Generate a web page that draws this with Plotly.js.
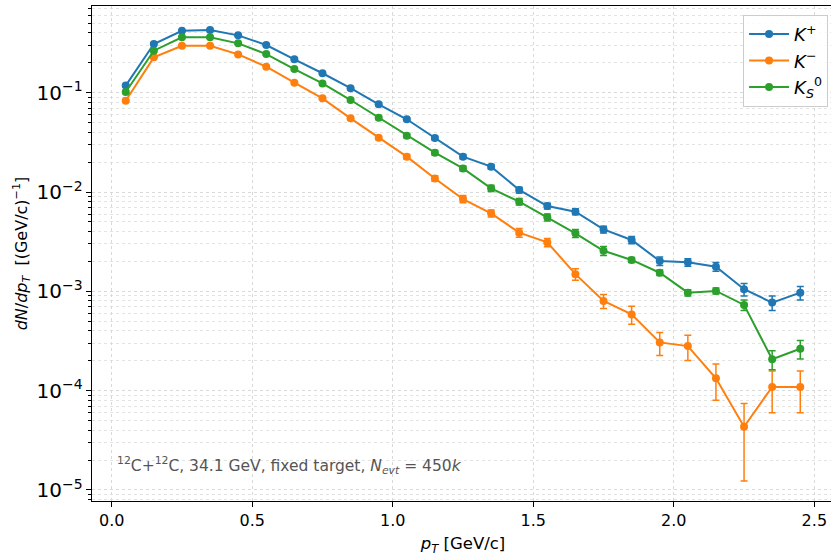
<!DOCTYPE html>
<html>
<head>
<meta charset="utf-8">
<script src="https://cdn.plot.ly/plotly-3.0.1.min.js"></script>
<style>
html,body{margin:0;padding:0;overflow:hidden;background:#fff;}
#chart{width:834px;height:559px;}
</style>
</head>
<body>
<div id="chart"></div>
<script>
const pt = [0.05,0.15,0.25,0.35,0.45,0.55,0.65,0.75,0.85,0.95,1.05,1.15,1.25,1.35,1.45,1.55,1.65,1.75,1.85,1.95,2.05,2.15,2.25,2.35,2.45];

const kPlus = [0.118,0.309,0.42,0.428,0.378,0.302,0.217,0.157,0.111,0.0764,0.054,0.035,0.0227,0.018,0.0105,0.00723,0.00634,0.0042,0.00329,0.00202,0.00196,0.00177,0.00105,0.00077,0.00097];
const kPlusErr = [0.003,0.005,0.006,0.006,0.006,0.005,0.004,0.0035,0.003,0.0024,0.0019,0.0015,0.0011,0.0009,0.0007,0.0005,0.00045,0.00033,0.00028,0.0002,0.00017,0.00018,0.00015,0.00013,0.00015];

const kMinus = [0.083,0.227,0.297,0.297,0.243,0.183,0.126,0.0878,0.0552,0.0352,0.0227,0.0137,0.0085,0.0061,0.0039,0.00311,0.00149,0.00080,0.000586,0.000306,0.000281,0.000133,0.0000433,0.000109,0.000109];
const kMinusErr = [0.002,0.004,0.005,0.005,0.005,0.004,0.003,0.0025,0.002,0.0015,0.0012,0.0009,0.0007,0.0005,0.0004,0.0003,0.0002,0.00013,0.00012,0.00008,0.00008,0.000053,0.000031,0.000049,0.000049];

const kShort = [0.1017,0.265,0.361,0.361,0.314,0.245,0.173,0.124,0.0844,0.056,0.0369,0.0249,0.0173,0.0109,0.0080,0.00556,0.00384,0.00256,0.00207,0.00154,0.00097,0.00101,0.00073,0.000207,0.000264];
const kShortErr = [0.003,0.005,0.006,0.006,0.006,0.005,0.004,0.0035,0.0028,0.0022,0.0017,0.0013,0.001,0.0008,0.0006,0.00045,0.00035,0.00027,0.00012,0.0001,0.00007,0.00007,0.00009,0.000045,0.000056];

const xTickVals = [0,0.5,1,1.5,2,2.5];
const xTickText = ['0.0','0.5','1.0','1.5','2.0','2.5'];

const names = ['<i>K</i><sup>+</sup>','<i>K</i><sup>−</sup>','<i>K</i><sub><i>S</i></sub><sup>0</sup>'];
const colors = ['#1f77b4','#ff7f0e','#2ca02c'];
const series = [[kPlus,kPlusErr],[kMinus,kMinusErr],[kShort,kShortErr]];

const traces = series.map((s,i)=>({
  x: pt, y: s[0], name: names[i], type:'scatter', mode:'lines+markers',
  line:{color:colors[i], width:2},
  marker:{color:colors[i], size:8},
  error_y:{type:'data', array:s[1], visible:true, color:colors[i], thickness:1.5, width:3.5}
}));

const font = 'DejaVu Sans, sans-serif';
const layout = {
  width:834, height:559,
  margin:{l:92, r:0, t:6, b:58},
  paper_bgcolor:'#fff', plot_bgcolor:'#fff',
  font:{family:font, size:16, color:'#000'},
  showlegend:true,
  legend:{x:0.992, y:0.982, xanchor:'right', yanchor:'top', bgcolor:'rgba(255,255,255,0.85)', bordercolor:'#cccccc', borderwidth:1, font:{size:18, family:font}, itemwidth:40, tracegroupgap:2},
  xaxis:{
    range:[-0.07,2.57], tickvals:xTickVals, ticktext:xTickText,
    ticks:'outside', ticklen:5, tickcolor:'#000', tickfont:{size:16},
    showline:true, linecolor:'#000', linewidth:1.2, mirror:true,
    showgrid:true, gridcolor:'#d9d9d9', griddash:'dot', gridwidth:1, zeroline:false,
    title:{text:'<i>p</i><sub><i>T</i></sub> [GeV/c]', font:{size:16.5}, standoff:8}
  },
  yaxis:{
    type:'log', range:[-5.111,-0.127], dtick:1, exponentformat:'power', showexponent:'all',
    ticks:'outside', ticklen:5, tickcolor:'#000', tickfont:{size:16},
    showline:true, linecolor:'#000', linewidth:1.2, mirror:true,
    showgrid:true, gridcolor:'#d9d9d9', griddash:'dot', gridwidth:1, zeroline:false,
    minor:{dtick:'D1', ticks:'outside', ticklen:2.5, tickcolor:'#000', showgrid:true, gridcolor:'#e3e3e3', griddash:'dot'},
    title:{text:'<i>dN</i>/<i>dp</i><sub><i>T</i></sub>  [(GeV/c)<sup>−1</sup>]', font:{size:16}, standoff:5}
  },
  annotations:[{
    xref:'x', yref:'y', x:0.012, y:-4.749, xanchor:'left', yanchor:'middle', showarrow:false,
    text:'<sup>12</sup>C+<sup>12</sup>C, 34.1 GeV, fixed target, <i>N</i><sub><i>evt</i></sub> = 450<i>k</i>',
    font:{size:15.5, color:'#555555', family:font}
  }]
};

Plotly.newPlot('chart', traces, layout, {displayModeBar:false, staticPlot:true});
</script>
</body>
</html>
